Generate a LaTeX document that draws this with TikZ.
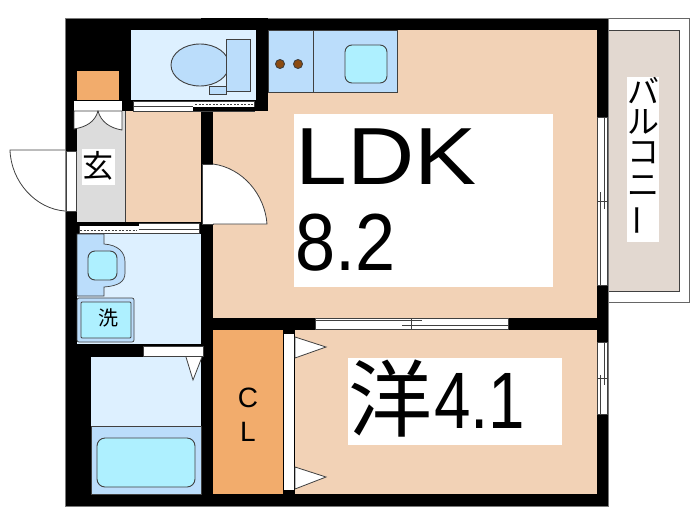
\documentclass[tikz,border=0pt]{standalone}
\usepackage{fontspec}
\setmainfont{Liberation Sans}
\newfontfamily\cjk{Noto Sans CJK JP}
\definecolor{tanroom}{HTML}{F2D2B6}
\definecolor{closet}{HTML}{F2AC6C}
\definecolor{paleblue}{HTML}{DDF0FF}
\definecolor{midblue}{HTML}{BBDDFB}
\definecolor{aqua}{HTML}{AEF0FF}
\definecolor{entry}{HTML}{DCDCDC}
\definecolor{balcony}{HTML}{E2D8D0}
\definecolor{burner}{HTML}{8B4A10}
\definecolor{edge}{HTML}{404040}
\tikzset{
  room/.style={fill=#1, draw=none},
  fixture/.style={fill=#1, draw=edge, line width=0.9pt},
  opening/.style={fill=white, draw=edge, line width=0.6pt},
  rail/.style={draw=edge, line width=0.8pt},
  tag/.style={inner sep=0pt, anchor=base west},
  kana/.style={inner sep=0pt, font=\cjk\fontsize{32}{32}\selectfont},
}

\begin{document}
\begin{tikzpicture}[x=1pt,y=-1pt]

  \useasboundingbox (0,0) rectangle (700,525);

  \newcommand\WL{597};
  \newcommand\WR{608};

  %% balcony
  \draw[fill=white, draw=edge!80, line width=0.6pt] (\WR,18) rectangle (689,302);
  \draw[fixture=balcony, line width=0.7pt] (\WR,30) rectangle (679,291);
  \fill[white] (627,77) rectangle (659,242);

  %% walls
  \draw[fill=black, draw=edge!70, line width=0.5pt] (65,18) rectangle (\WR,506);

  %% rooms
  \fill[room=tanroom] (213,30) rectangle (\WL,318);
  \fill[black] (201,18) rectangle (268,111);
  \fill[room=tanroom] (295,330) rectangle (\WL,494);
  \fill[room=tanroom] (126,111) rectangle (201,222);
  \fill[room=closet] (213,330) rectangle (283,494);
  \fill[room=closet] (77,71) rectangle (119,100);
  \fill[room=entry] (77,111) rectangle (125,222);
  \draw[edge, line width=0.7pt] (125.5,111) -- (125.5,222);
  \fill[room=paleblue] (131,30) rectangle (256,100);
  \fill[room=paleblue] (77,234) rectangle (201,344);
  \fill[room=paleblue] (91,357) rectangle (201,426);
  \draw[fixture=midblue, line width=0.7pt] (91,426.5) rectangle (201,494);

  %% kitchen
  \draw[fixture=midblue, line width=0.7pt] (268,30) rectangle (397,92);
  \draw[rail] (313,30) -- (313,92);
  \draw[fixture=aqua, rounded corners=7pt] (345,45) rectangle (387,83);
  \draw[fixture=burner] (280,64) circle (4.5pt);
  \draw[fixture=burner] (298,64) circle (4.5pt);

  %% toilet
  \draw[fixture=midblue] (200,65) ellipse [x radius=29pt, y radius=21pt];
  \draw[fixture=midblue] (226,39) rectangle (250,91);
  \draw[fixture=midblue] (209,86) rectangle (226,94);

  %% basin and washer
  \draw[fixture=midblue, line width=0.7pt] (104,234) -- (104,244) .. controls (118,245) and (125,252) .. (125,262)
    -- (125,273) .. controls (125,282) and (118,286) .. (104,287) -- (104,296) -- (77,296) -- (77,234) -- cycle;
  \draw[fixture=aqua, rounded corners=7pt] (88,251) rectangle (117,280);
  \draw[fixture=midblue, rounded corners=2pt, line width=0.7pt] (77,298) rectangle (134,342);
  \draw[fixture=aqua, rounded corners=1pt] (81,302) rectangle (131,338);

  %% tub
  \draw[fixture=aqua, rounded corners=8pt] (97,438) rectangle (195,487);

  %% sliding door strips
  \draw[opening] (133,101) rectangle (254,111);
  \fill[black] (193,107) rectangle (268,111);
  \draw[rail] (133,106) -- (193,106);
  \draw[rail, dash pattern=on 2pt off 1.5pt] (195,104) -- (253,104);
  \draw[opening] (79,223) rectangle (199,233);
  \fill[black] (78,222) rectangle (139,226);
  \draw[rail] (139,229) -- (199,229);
  \draw[rail, dash pattern=on 2pt off 1.5pt] (80,230) -- (137,230);

  %% entrance and shoe cupboard
  \draw[opening] (66,151) rectangle (76,211);
  \draw[opening] (202,164) rectangle (213,224);
  \fill[white] (74,101) rectangle (122,111);
  \draw[opening, line width=0.8pt] (74,111) -- (74,129) .. controls (86,127) and (95,122) .. (98,111) -- cycle;
  \draw[opening, line width=0.8pt] (122,111) -- (122,130) .. controls (110,128) and (101,122) .. (98,111) -- cycle;
  \draw[opening, line width=0.8pt] (65,150) -- (10,150) .. controls (11,182) and (36,209) .. (65,211);
  \draw[opening, line width=0.8pt] (213,164) .. controls (243,168) and (265,195) .. (267,224) -- (213,224);

  %% door to the bath
  \draw[opening] (143,346) rectangle (203,356);
  \draw[opening, line width=0.8pt] (186,357) -- (193,380) -- (202,357);

  %% closet doors
  \fill[white] (284,334) rectangle (294,490);
  \draw[opening, line width=0.8pt] (295,337) -- (326,347) -- (295,358) -- cycle;
  \draw[opening, line width=0.8pt] (295,467) -- (326,477) -- (295,489) -- cycle;

  %% windows
  \draw[opening] (315,318) rectangle (508,329);
  \draw[rail] (315,320) -- (422,320);
  \draw[rail] (402,325.5) -- (508,325.5);
  \draw[rail] (411.5,318) -- (411.5,329);

  \draw[opening] (\WL,117) rectangle (607,285);
  \draw[rail, line width=0.6pt] (604.5,117) -- (604.5,209);
  \draw[rail, line width=0.6pt] (600,192) -- (600,285);
  \draw[rail, line width=0.6pt] (\WL,201) -- (607,201);

  \draw[opening] (\WL,342) rectangle (607,414);
  \draw[rail, line width=0.6pt] (604.5,342) -- (604.5,385);
  \draw[rail, line width=0.6pt] (600,375) -- (600,414);
  \draw[rail, line width=0.6pt] (\WL,378) -- (607,378);

  %% labels
  \fill[white] (294,114) rectangle (553,287);
  \fill[white] (348,358) rectangle (562,445);
  \fill[white] (82,149) rectangle (115,185);

  \node[tag, font=\fontsize{81}{81}\selectfont, xscale=1.15, transform shape] (ldk) at (295,184) {LDK};
  \node[tag, font=\fontsize{81}{81}\selectfont, xscale=0.89, transform shape] (ldkarea) at (295,270) {8.2};
  \node[inner sep=0pt, font=\cjk\fontsize{84}{84}\selectfont] (western) at (390,399) {洋};
  \node[tag, font=\fontsize{80}{80}\selectfont, xscale=0.82, transform shape] (westernarea) at (434,428) {4.1};
  \node[inner sep=0pt, font=\cjk\fontsize{31}{31}\selectfont] (genkan) at (98,166) {玄};
  \node[inner sep=0pt, font=\cjk\fontsize{20}{20}\selectfont] (wash) at (108,318) {洗};
  \node[inner sep=0pt, font=\fontsize{28}{28}\selectfont] (clc) at (248,398) {C};
  \node[inner sep=0pt, font=\fontsize{28}{28}\selectfont] (cll) at (248,432) {L};

  \node[kana] (ba) at (643,91) {バ};
  \node[kana] (ru) at (643,122) {ル};
  \node[kana] (ko) at (643,153) {コ};
  \node[kana] (ni) at (643,186) {ニ};
  \node[kana, rotate=90] (bar) at (643,220) {ー};

\end{tikzpicture}
\end{document}
